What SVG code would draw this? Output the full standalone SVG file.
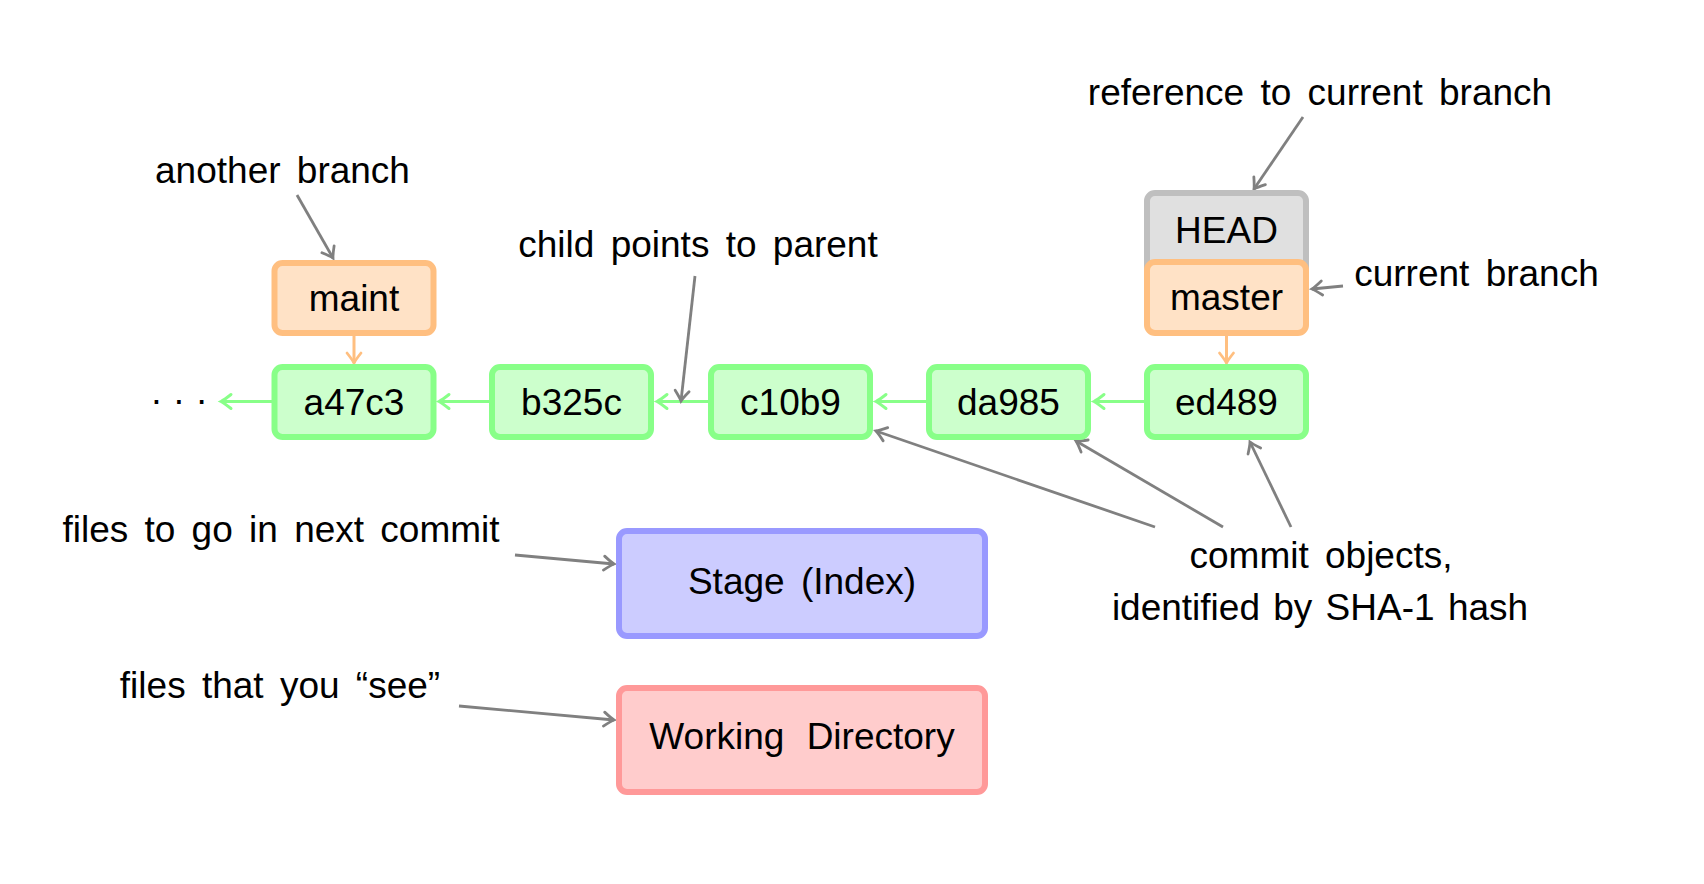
<svg xmlns="http://www.w3.org/2000/svg" width="1704" height="884" viewBox="0 0 1704 884">
<style>
text{font-family:"Liberation Sans",Arial,sans-serif;font-size:37px;fill:#000;text-anchor:middle;word-spacing:6px}
.commit{fill:#ccffcc;stroke:#88ff88;stroke-width:6}
.branch{fill:#ffe2c6;stroke:#ffbf80;stroke-width:6}
.head{fill:#e0e0e0;stroke:#bfbfbf;stroke-width:6}
.stage{fill:#ccccff;stroke:#9999ff;stroke-width:6}
.wd{fill:#ffcccc;stroke:#ff9999;stroke-width:6}
.g{stroke:#88ff88;stroke-width:3.2;fill:none;marker-end:url(#ag)}
.o{stroke:#ffbf80;stroke-width:3;fill:none;marker-end:url(#ao)}
.k{stroke:#808080;stroke-width:2.8;fill:none;marker-end:url(#ak)}
</style>
<defs>
<marker id="ag" markerUnits="userSpaceOnUse" viewBox="-14 -10 18 20" markerWidth="18" markerHeight="20" refX="0" refY="0" orient="auto" overflow="visible"><path d="M-10,-7 Q-3,-1.5 0,0 Q-3,1.5 -10,7" fill="none" stroke="#88ff88" stroke-width="3" stroke-linecap="round"/></marker>
<marker id="ao" markerUnits="userSpaceOnUse" viewBox="-14 -10 18 20" markerWidth="18" markerHeight="20" refX="0" refY="0" orient="auto" overflow="visible"><path d="M-10,-7 Q-3,-1.5 0,0 Q-3,1.5 -10,7" fill="none" stroke="#ffbf80" stroke-width="2.8" stroke-linecap="round"/></marker>
<marker id="ak" markerUnits="userSpaceOnUse" viewBox="-14 -10 18 20" markerWidth="18" markerHeight="20" refX="0" refY="0" orient="auto" overflow="visible"><path d="M-10,-7 Q-3,-1.5 0,0 Q-3,1.5 -10,7" fill="none" stroke="#808080" stroke-width="2.8" stroke-linecap="round"/></marker>
</defs>
<rect width="1704" height="884" fill="#fff"/>

<g id="connectors">
<line class="g" x1="272" y1="401.5" x2="221" y2="401.5"/>
<line class="g" x1="489" y1="401.5" x2="439" y2="401.5"/>
<line class="g" x1="708" y1="401.5" x2="657" y2="401.5"/>
<line class="g" x1="926" y1="401.5" x2="876" y2="401.5"/>
<line class="g" x1="1144" y1="401.5" x2="1094" y2="401.5"/>
<line class="o" x1="354" y1="336" x2="354" y2="363"/>
<line class="o" x1="1226.5" y1="336" x2="1226.5" y2="363"/>
<line class="k" x1="297" y1="195" x2="333" y2="258"/>
<line class="k" x1="695" y1="276" x2="681" y2="401"/>
<line class="k" x1="1303" y1="117" x2="1254" y2="189"/>
<line class="k" x1="1343" y1="286" x2="1312" y2="289"/>
<line class="k" x1="1155" y1="527" x2="876" y2="431"/>
<line class="k" x1="1223" y1="527" x2="1076" y2="441"/>
<line class="k" x1="1291" y1="527" x2="1250" y2="442"/>
<line class="k" x1="515" y1="555" x2="614" y2="564"/>
<line class="k" x1="459" y1="706" x2="614" y2="720"/>
</g>

<g id="dots"><text x="179" y="412" style="word-spacing:0">· · ·</text></g>

<g id="a47c3"><rect class="commit" x="274.5" y="367" width="159" height="70" rx="8"/><text x="354" y="415">a47c3</text></g>
<g id="b325c"><rect class="commit" x="492" y="367" width="159" height="70" rx="8"/><text x="571.5" y="415">b325c</text></g>
<g id="c10b9"><rect class="commit" x="711" y="367" width="159" height="70" rx="8"/><text x="790.5" y="415">c10b9</text></g>
<g id="da985"><rect class="commit" x="929" y="367" width="159" height="70" rx="8"/><text x="1008.5" y="415">da985</text></g>
<g id="ed489"><rect class="commit" x="1147" y="367" width="159" height="70" rx="8"/><text x="1226.5" y="415">ed489</text></g>

<g id="maint"><rect class="branch" x="274.5" y="263" width="159" height="70" rx="8"/><text x="354" y="311">maint</text></g>
<g id="HEAD"><rect class="head" x="1147" y="193" width="159" height="90" rx="8"/><text x="1226.5" y="243">HEAD</text></g>
<g id="master"><rect class="branch" x="1147" y="262" width="159" height="71" rx="8"/><text x="1226.5" y="310">master</text></g>

<g id="stage"><rect class="stage" x="619" y="531" width="366" height="105" rx="8"/><text x="802" y="594">Stage (Index)</text></g>
<g id="workdir"><rect class="wd" x="619" y="688" width="366" height="104" rx="8"/><text x="802" y="749" style="word-spacing:12px">Working Directory</text></g>

<g id="labels">
<text x="282.5" y="183">another branch</text>
<text x="698" y="257">child points to parent</text>
<text x="1320" y="105">reference to current branch</text>
<text x="1476.5" y="286">current branch</text>
<text x="1321" y="568">commit objects,</text>
<text x="1320" y="620" style="word-spacing:3px">identified by SHA-1 hash</text>
<text x="281" y="542">files to go in next commit</text>
<text x="280" y="698">files that you “see”</text>
</g>
</svg>
